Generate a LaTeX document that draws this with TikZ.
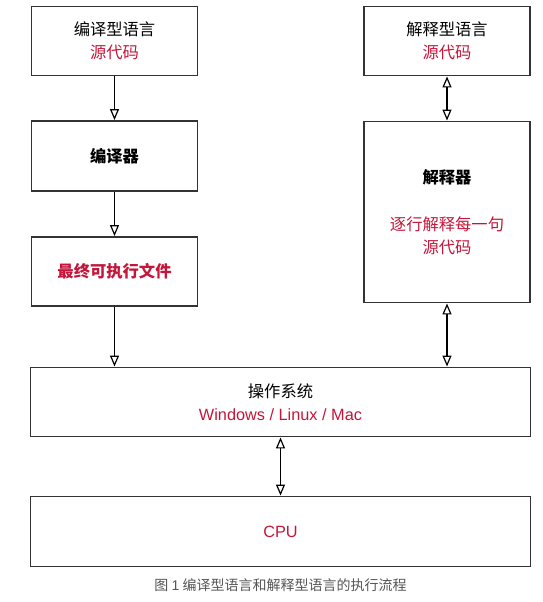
\documentclass[tikz,border=0pt]{standalone}
\usepackage{fontspec}
\setmainfont{Noto Sans CJK SC}
\newfontfamily\latinsans{Liberation Sans}
\usetikzlibrary{arrows.meta}
\definecolor{hl}{RGB}{196,22,58}
\definecolor{bd}{RGB}{51,51,51}
\definecolor{cap}{RGB}{85,85,85}
\begin{document}
\begin{tikzpicture}[x=1pt,y=-1pt,
  box/.style={draw=bd,line width=1.9pt,inner sep=0pt,align=center,
    font=\fontsize{16.3}{23.5}\selectfont},
  conn/.style={line width=1.2pt,draw=black,-{Triangle[open,length=11pt,width=9pt]}},
  biconn/.style={line width=1.2pt,draw=black,{Triangle[open,length=11pt,width=9pt]}-{Triangle[open,length=11pt,width=9pt]}}]
\useasboundingbox (0,0) rectangle (542,602);
\node[box,minimum width=166pt,minimum height=69pt] (b1) at (114.5,41) {编译型语言\\\textcolor{hl}{源代码}};
\node[box,minimum width=166pt,minimum height=70pt] (b2) at (114.5,156) {\bfseries 编译器};
\node[box,minimum width=166pt,minimum height=69pt] (b3) at (114.5,271.5) {\bfseries\color{hl}最终可执行文件};
\node[box,minimum width=166pt,minimum height=69pt] (b4) at (447,41) {解释型语言\\\textcolor{hl}{源代码}};
\node[box,minimum width=166pt,minimum height=181pt] (b5) at (447,212) {\textbf{解释器}\\[23.5pt]\textcolor{hl}{逐行解释每一句}\\\textcolor{hl}{源代码}};
\node[box,minimum width=500pt,minimum height=69pt] (b6) at (280.5,402) {操作系统\\\textcolor{hl}{\latinsans Windows / Linux / Mac}};
\node[box,minimum width=500pt,minimum height=70pt] (b7) at (280.5,531.5) {\textcolor{hl}{\latinsans CPU}};
\node[font=\fontsize{14}{16}\selectfont,text=cap] (cp) at (280.5,585) {图 {\latinsans 1} 编译型语言和解释型语言的执行流程};
\draw[conn] (b1.south) -- (b2.north);
\draw[conn] (b2.south) -- (b3.north);
\draw[conn] (b3.south) -- (b3.south |- b6.north);
\draw[biconn] (b4.south) -- (b5.north);
\draw[biconn] (b5.south) -- (b5.south |- b6.north);
\draw[biconn] (b6.south) -- (b7.north);
\end{tikzpicture}
\end{document}
